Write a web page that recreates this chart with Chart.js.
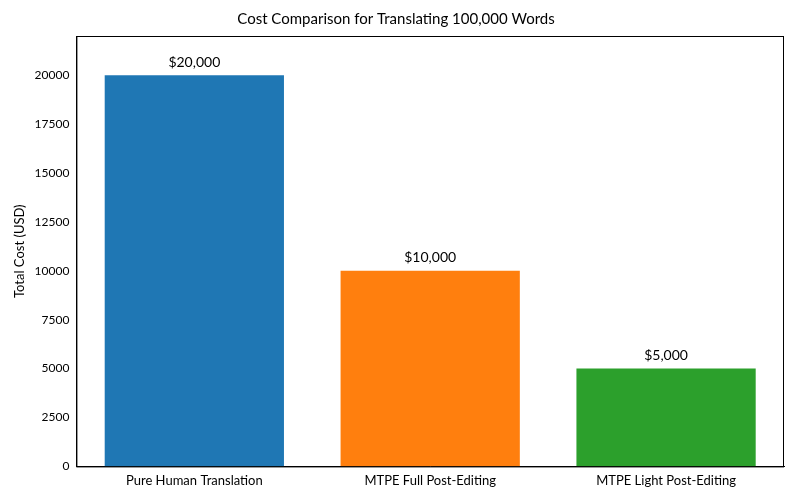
<!DOCTYPE html>
<html><head><meta charset="utf-8">
<script src="https://cdn.jsdelivr.net/npm/chart.js@4"></script>
<style>html,body{margin:0;padding:0;background:#fff}#w{width:800px;height:500px}</style>
</head><body><div id="w"><canvas id="c"></canvas></div>
<script>
const categories = ["Pure Human Translation", "MTPE Full Post-Editing", "MTPE Light Post-Editing"];
const costs = [20000, 10000, 5000];
const barLabels = ["$20,000", "$10,000", "$5,000"];
const colors = ["#1f77b4", "#ff7f0e", "#2ca02c"];
const yTicks = [0, 2500, 5000, 7500, 10000, 12500, 15000, 17500, 20000];

const labelPlugin = {
  id: 'lbl',
  afterDatasetsDraw(chart) {
    const ctx = chart.ctx;
    const meta = chart.getDatasetMeta(0);
    ctx.save();
    ctx.font = '14px Lato';
    ctx.fillStyle = '#000';
    ctx.textAlign = 'center';
    ctx.textBaseline = 'bottom';
    meta.data.forEach((b, i) => ctx.fillText(barLabels[i], b.x, b.y - 6));
    ctx.restore();
  }
};
const frame = {
  id: 'frame',
  afterDraw(chart) {
    const a = chart.chartArea, ctx = chart.ctx;
    ctx.save(); ctx.strokeStyle = '#000'; ctx.lineWidth = 1;
    ctx.strokeRect(a.left + 0.5, a.top + 0.5, a.right - a.left - 1, a.bottom - a.top);
    ctx.restore();
  }
};
Chart.defaults.font.family = 'Lato';
Chart.defaults.color = '#000';
new Chart(document.getElementById('c'), {
  type: 'bar',
  data: { labels: categories, datasets: [{ data: costs, backgroundColor: colors, barPercentage: 0.76, categoryPercentage: 1 }] },
  options: {
    responsive: true, maintainAspectRatio: false, animation: false,
    layout: { padding: { left: 8, right: 16, top: 6, bottom: 8 } },
    plugins: {
      legend: { display: false }, tooltip: { enabled: false },
      title: { display: true, text: 'Cost Comparison for Translating 100,000 Words', font: { size: 15, weight: 'normal' }, padding: { top: 4, bottom: 8 } }
    },
    scales: {
      x: { grid: { display: false, tickLength: 4 }, border: { color: '#000' }, ticks: { font: { size: 13 }, color: '#000' } },
      y: { min: 0, max: 22000, grid: { display: false, tickLength: 4 }, border: { color: '#000' },
           afterBuildTicks: s => { s.ticks = yTicks.map(v => ({ value: v })); },
           ticks: { autoSkip: false, font: { size: 12 }, color: '#000', callback: v => String(v) },
           title: { display: true, text: 'Total Cost (USD)', font: { size: 13 } } }
    }
  },
  plugins: [labelPlugin, frame]
});
</script></body></html>
